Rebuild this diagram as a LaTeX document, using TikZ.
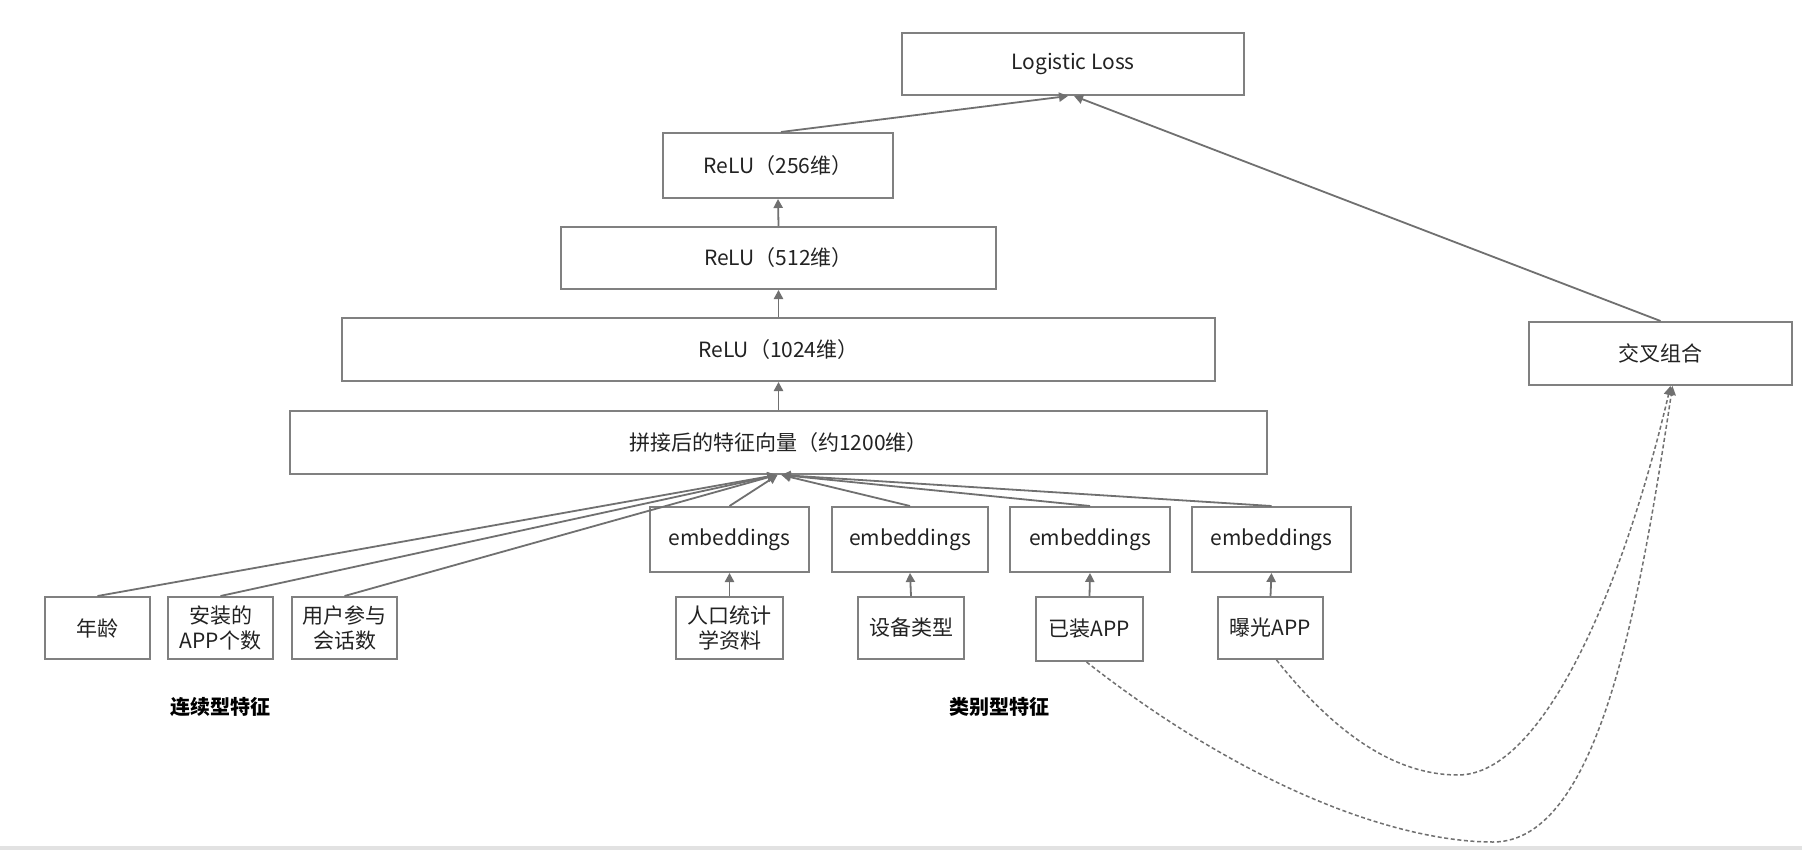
\documentclass[tikz,border=0pt]{standalone}
\usepackage{fontspec}
\setmainfont{Noto Sans CJK SC}
\usetikzlibrary{arrows.meta}
\definecolor{boxgray}{HTML}{808080}
\definecolor{arrgray}{HTML}{707070}
\definecolor{txt}{HTML}{222222}
\definecolor{bargray}{HTML}{E2E2E2}
\begin{document}
\begin{tikzpicture}[x=0.5pt,y=-0.5pt,
  box/.style={draw=boxgray, line width=1pt, inner sep=0pt, align=center, text=txt,
    font=\fontsize{10.5}{12.5}\selectfont},
  embbox/.style={box, minimum width=79.5pt, minimum height=32.5pt},
  featbox/.style={box, minimum width=52.5pt, minimum height=31pt},
  arr/.style={draw=arrgray, line width=0.9pt, -{Triangle[length=4.5pt,width=4.6pt]}},
  dsh/.style={arr, line width=0.75pt, dash pattern=on 2pt off 1.3pt},
  grp/.style={font=\fontsize{10}{12}\selectfont\bfseries, text=black}]
\useasboundingbox (0,0) rectangle (1802,850);
\fill[white] (0,0) rectangle (1802,850);
\fill[bargray] (0,846) rectangle (1802,850);

% stack
\node[box, minimum width=171pt, minimum height=31pt] (loss) at (1073,64) {Logistic Loss};
\node[box, minimum width=115pt, minimum height=32.5pt] (r256) at (778,165.5) {ReLU（256维）};
\node[box, minimum width=217.5pt, minimum height=31pt] (r512) at (778.5,258) {ReLU（512维）};
\node[box, minimum width=436.5pt, minimum height=31.5pt] (r1024) at (778.5,349.5) {ReLU（1024维）};
\node[box, minimum width=488.5pt, minimum height=31.5pt] (concat) at (778.5,442.5) {拼接后的特征向量（约1200维）};
\node[box, minimum width=131.5pt, minimum height=31.5pt] (cross) at (1660.5,353.5) {交叉组合};

% embeddings
\node[embbox] (emb1) at (729.5,539.5) {embeddings};
\node[embbox, minimum width=78pt] (emb2) at (910,539.5) {embeddings};
\node[embbox, minimum width=80pt] (emb3) at (1090,539.5) {embeddings};
\node[embbox] (emb4) at (1271.5,539.5) {embeddings};

% features
\node[featbox] (age) at (97.5,628) {年龄};
\node[featbox] (apps) at (220.5,628) {安装的\\APP个数};
\node[featbox] (sess) at (344.5,628) {用户参与\\会话数};
\node[featbox, minimum width=53.5pt] (demo) at (729.5,628) {人口统计\\学资料};
\node[featbox, minimum width=53pt] (dev) at (911,628) {设备类型};
\node[featbox, minimum width=53.5pt, minimum height=32pt] (inst) at (1089.5,629) {已装APP};
\node[featbox] (imp) at (1270.5,628) {曝光APP};

\node[grp] (lab1) at (220,707) {连续型特征};
\node[grp] (lab2) at (999,707) {类别型特征};

% connectors
\draw[arr] ([xshift=1.5pt]r256.north) -- ([xshift=-2.5pt]loss.south);
\draw[arr] (cross.north) -- ([xshift=0.5pt]loss.south);
\draw[arr] (r512.north) -- (r256.south);
\draw[arr] (r1024.north) -- (r512.south);
\draw[arr] (concat.north) -- (r1024.south);

\draw[arr] (age.north) -- ([xshift=-1pt]concat.south);
\draw[arr] (apps.north) -- ([xshift=-1pt]concat.south);
\draw[arr] (sess.north) -- ([xshift=-1pt]concat.south);
\draw[arr] (emb1.north) -- ([xshift=-0.5pt]concat.south);
\draw[arr] (emb2.north) -- ([xshift=1.5pt]concat.south);
\draw[arr] (emb3.north) -- ([xshift=1.5pt]concat.south);
\draw[arr] (emb4.north) -- ([xshift=1.5pt]concat.south);

\draw[arr] (demo.north) -- (emb1.south);
\draw[arr] (dev.north) -- (emb2.south);
\draw[arr] (inst.north) -- (emb3.south);
\draw[arr] (imp.north) -- (emb4.south);

% dashed cross-feature curves
\coordinate (m1) at (1493,842);
\coordinate (m2) at (1458,775);
\draw[dsh] ([xshift=-1.5pt]inst.south) .. controls (1250,790) and (1400,842) .. (m1)
  .. controls (1600,842) and (1640,600) .. ([xshift=6pt]cross.south);
\draw[dsh] ([xshift=3pt]imp.south) .. controls (1340,740) and (1400,775) .. (m2)
  .. controls (1545,775) and (1625,580) .. ([xshift=5pt]cross.south);
\end{tikzpicture}
\end{document}
